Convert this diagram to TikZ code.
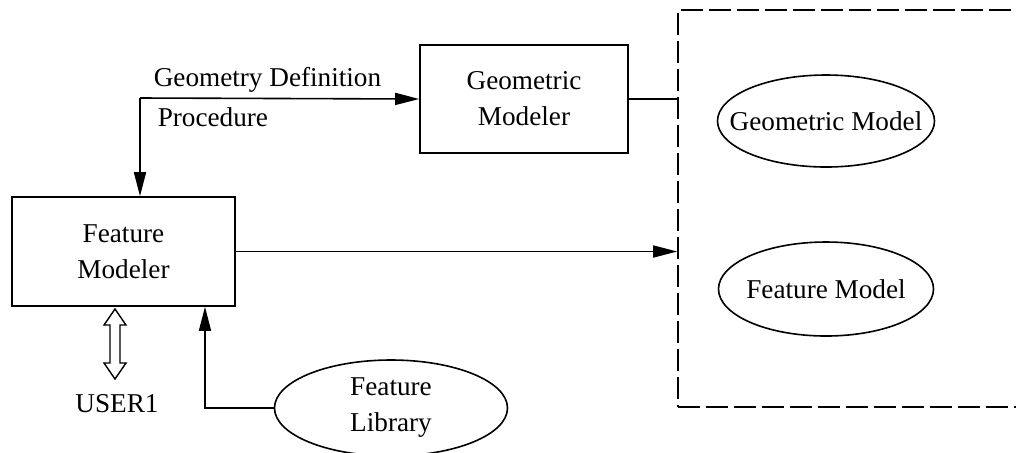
\documentclass[tikz,border=0pt]{standalone}
\usepackage{fontspec}
\setmainfont{Liberation Serif}
\usetikzlibrary{arrows.meta,shapes.geometric,calc}
\newcommand{\zw}[1]{\makebox[0pt]{#1}}
\begin{document}
\begin{tikzpicture}[x=0.5pt,y=-0.5pt,
  line width=0.8pt,
  every node/.style={font=\fontsize{13.6}{18}\selectfont},
  modbox/.style={draw, rectangle, align=center, inner sep=0pt},
  modoval/.style={draw, ellipse, align=center, inner sep=0pt},
  store/.style={draw, dash pattern=on 11pt off 3pt, rectangle, inner sep=0pt},
  flow/.style={-{Triangle[length=12pt,width=6pt]}},
  label/.style={inner sep=0pt, anchor=base west}]
  \clip (0,0) rectangle (1016,452);
  \fill[white] (0,0) rectangle (1016,452);

  % modelers
  \node[modbox, minimum width=104pt, minimum height=54pt] (gm) at (524,99) {Geometric\\Modeler};
  \node[modbox, minimum width=111.5pt, minimum height=54.5pt] (fm) at (123.5,251.5) {Feature\\Modeler};

  % model store with its contents
  \node[store, minimum width=180pt, minimum height=198.5pt] (st) at (858,208.5) {};
  \node[modoval, minimum width=108.5pt, minimum height=46pt] (gmod) at (826,121) {\zw{Geometric Model}};
  \node[modoval, minimum width=107.5pt, minimum height=47pt] (fmod) at (826,289) {\zw{Feature Model}};

  % feature library
  \node[modoval, minimum width=116.5pt, minimum height=48pt] (lib) at (391,408) {\zw{Feature}\\\zw{Library}};

  % geometry definition procedure
  \coordinate (split) at (140,98);
  \draw[flow] (split) -- (gm.west);
  \draw[flow] (split) -- (split |- fm.north);
  \node[label] (lblgeo) at (153,86) {Geometry Definition};
  \node[label] (lblproc) at (157,126) {Procedure};

  % connections to the store
  \draw (gm.east) -- (gm.east -| st.west);
  \draw[flow] (fm.east) -- (fm.east -| st.west);

  % library feeds the feature modeler
  \coordinate (libx) at (205,0);
  \draw[flow] (lib.west) -| (libx |- fm.south);

  % user interaction
  \coordinate (ua) at (115,344);
  \draw[line width=0.7pt] ($(ua)+(0,-35)$) -- ($(ua)+(11,-19)$) -- ($(ua)+(5,-19)$) -- ($(ua)+(5,19)$)
    -- ($(ua)+(11,19)$) -- ($(ua)+(0,35)$) -- ($(ua)+(-11,19)$) -- ($(ua)+(-5,19)$)
    -- ($(ua)+(-5,-19)$) -- ($(ua)+(-11,-19)$) -- cycle;
  \node[inner sep=0pt, anchor=base] (user) at (117,412) {USER1};
\end{tikzpicture}
\end{document}
